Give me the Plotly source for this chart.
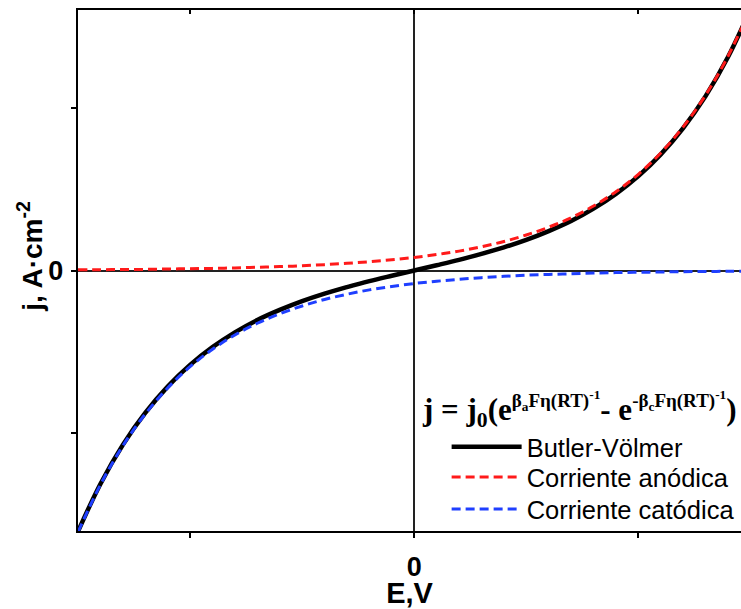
import plotly.graph_objects as go

# Potential (E, V) values
E = [-1.5, -1.4, -1.3, -1.2, -1.1, -1.0, -0.9, -0.8, -0.7, -0.6, -0.5, -0.4, -0.3, -0.2, -0.1,
     0.0, 0.1, 0.2, 0.3, 0.4, 0.5, 0.6, 0.7, 0.8, 0.9, 1.0, 1.1, 1.2, 1.3, 1.4, 1.5]

# Butler-Völmer total current
j_bv = [-1.603, -1.311, -1.071, -0.875, -0.713, -0.580, -0.471, -0.380, -0.304, -0.242,
        -0.188, -0.142, -0.102, -0.065, -0.032, 0.000, 0.032, 0.065, 0.102, 0.142,
        0.188, 0.242, 0.304, 0.380, 0.471, 0.580, 0.713, 0.875, 1.071, 1.311, 1.603]

# Anodic current
j_an = [0.004, 0.005, 0.006, 0.007, 0.009, 0.011, 0.013, 0.016, 0.020, 0.024,
        0.029, 0.036, 0.044, 0.054, 0.066, 0.080, 0.098, 0.119, 0.146, 0.178,
        0.218, 0.266, 0.324, 0.396, 0.484, 0.591, 0.722, 0.882, 1.077, 1.316, 1.607]

# Cathodic current
j_cat = [-1.607, -1.316, -1.077, -0.882, -0.722, -0.591, -0.484, -0.396, -0.324, -0.266,
         -0.218, -0.178, -0.146, -0.119, -0.098, -0.080, -0.066, -0.054, -0.044, -0.036,
         -0.029, -0.024, -0.020, -0.016, -0.013, -0.011, -0.009, -0.007, -0.006, -0.005, -0.004]

tick_vals = [-1, 0, 1]
x_tick_text = ["", "0", ""]
y_tick_text = ["", "0\u200a", ""]

names = ["Butler-Völmer", "Corriente anódica", "Corriente catódica"]

fig = go.Figure()
fig.add_trace(go.Scatter(x=E, y=j_bv, mode="lines", name=names[0], legend="legend",
                         line=dict(color="black", width=4.5, shape="spline")))
fig.add_trace(go.Scatter(x=E, y=j_an, mode="lines", name=names[1], legend="legend2",
                         line=dict(color="#ff1a1a", width=3, dash="9px,5px", shape="spline")))
fig.add_trace(go.Scatter(x=E, y=j_cat, mode="lines", name=names[2], legend="legend3",
                         line=dict(color="#1f3fff", width=3, dash="9px,5px", shape="spline")))
# invisible trace for top axis
fig.add_trace(go.Scatter(x=[0], y=[0], xaxis="x2", mode="markers", opacity=0,
                         showlegend=False, hoverinfo="skip"))

leg_font = dict(size=25.5, family="Liberation Sans, Arial", color="black")


def leg(y):
    return dict(x=0.556, y=y, xanchor="left", yanchor="middle",
                bgcolor="rgba(0,0,0,0)", borderwidth=0, font=leg_font, itemwidth=70)


xr = [-1.5, 1.458]
fig.update_layout(
    width=741, height=609,
    margin=dict(l=78, r=0, t=10, b=78),
    paper_bgcolor="white", plot_bgcolor="white",
    font=dict(family="Liberation Sans, Arial", color="black"),
    showlegend=True,
    legend=leg(0.161), legend2=leg(0.103), legend3=leg(0.0413),
    xaxis=dict(range=xr, tickvals=tick_vals, ticktext=x_tick_text,
               ticks="outside", ticklen=5, tickwidth=1.5, tickcolor="black",
               showline=True, linecolor="black", linewidth=2,
               showgrid=False, zeroline=True, zerolinecolor="#222", zerolinewidth=1.5,
               tickfont=dict(size=27, family="Liberation Sans, Arial", color="black", weight="bold"),
               ticklabelstandoff=6,
               title=dict(text="<b>E,V</b>", font=dict(size=29, color="black"), standoff=4)),
    xaxis2=dict(range=xr, overlaying="x", side="top", anchor="y",
                tickvals=tick_vals, showticklabels=False,
                ticks="inside", ticklen=4, tickwidth=1.5, tickcolor="black",
                showline=True, linecolor="black", linewidth=2,
                showgrid=False, zeroline=False),
    yaxis=dict(range=[-1.6, 1.6], tickvals=tick_vals, ticktext=y_tick_text,
               ticks="outside", ticklen=5, tickwidth=1.5, tickcolor="black",
               showline=True, linecolor="black", linewidth=2,
               showgrid=False, zeroline=True, zerolinecolor="#222", zerolinewidth=1.5,
               tickfont=dict(size=27, family="Liberation Sans, Arial", color="black", weight="bold")),
)

# y-axis title
fig.add_annotation(
    x=-0.0725, y=0.528, xref="paper", yref="paper", xanchor="center", yanchor="middle",
    showarrow=False, textangle=-90,
    text="<b>j, A·cm<sup>-2</sup></b>",
    font=dict(size=28, family="Liberation Sans, Arial", color="black"),
)

# Butler-Volmer equation
fig.add_annotation(
    x=0.516, y=0.234, xref="paper", yref="paper", xanchor="left", yanchor="middle",
    showarrow=False,
    text=("<b>j = j<sub>0</sub>(e<sup><span style='font-size:19px'>β<sub>a</sub>Fη(RT)<sup>-1</sup></span></sup>"
          "- e<sup><span style='font-size:19px'>-β<sub>c</sub>Fη(RT)<sup>-1</sup></span></sup>)</b>"),
    font=dict(size=31, family="Liberation Serif, Times New Roman", color="black"),
)

fig.write_html("out.html")
